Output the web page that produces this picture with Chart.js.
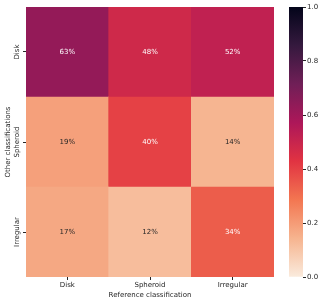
<!DOCTYPE html>
<html>
<head>
<meta charset="utf-8">
<script src="https://cdn.jsdelivr.net/npm/chart.js@4"></script>
<style>
  body { margin: 0; background: #fff; }
  #wrap { position: relative; width: 324px; height: 303px; }
  #main { position: absolute; left: 0; top: 0; }
  #cbar { position: absolute; left: 280px; top: 0; }
</style>
</head>
<body>
<div id="wrap">
  <canvas id="main" width="324" height="303"></canvas>
  <canvas id="cbar" width="44" height="303"></canvas>
</div>
<script>
// reference classification (columns)
const categories = ["Disk", "Spheroid", "Irregular"];
// other classifications (rows, top to bottom), percent of column
const rowLabels = ["Disk", "Spheroid", "Irregular"];
const diskRow = [63, 48, 52];
const spheroidRow = [19, 40, 14];
const irregularRow = [17, 12, 34];
const colorbarTicks = [0, 0.2, 0.4, 0.6, 0.8, 1.0];

// rocket_r colormap stops
const rocket = [
  [0, "#faebdd"], [0.143, "#f6b48f"], [0.286, "#f37651"], [0.429, "#e13342"],
  [0.571, "#ad1759"], [0.714, "#701f57"], [0.857, "#35193e"], [1, "#03051a"]
];

function hexRgb(h) {
  return [parseInt(h.slice(1, 3), 16), parseInt(h.slice(3, 5), 16), parseInt(h.slice(5, 7), 16)];
}
function cmap(v) {
  for (let i = 1; i < rocket.length; i++) {
    if (v <= rocket[i][0]) {
      const a = rocket[i - 1], b = rocket[i];
      const t = (v - a[0]) / (b[0] - a[0]);
      const ca = hexRgb(a[1]), cb = hexRgb(b[1]);
      return ca.map((c, k) => Math.round(c + (cb[k] - c) * t));
    }
  }
  return hexRgb(rocket[rocket.length - 1][1]);
}
function rgbStr(c) { return "rgb(" + c.join(",") + ")"; }
function lum(c) {
  const f = c.map(x => {
    x = x / 255;
    return x <= 0.03928 ? x / 12.92 : Math.pow((x + 0.055) / 1.055, 2.4);
  });
  return 0.2126 * f[0] + 0.7152 * f[1] + 0.0722 * f[2];
}

const FONT = "DejaVu Sans";
const TXT = "#262626";
const rows = [diskRow, spheroidRow, irregularRow];
// stacked from bottom: Irregular, Spheroid, Disk
const stackOrder = [2, 1, 0];

const datasets = stackOrder.map(r => ({
  label: rowLabels[r],
  data: categories.map(() => 1),
  pct: rows[r],
  backgroundColor: rows[r].map(v => rgbStr(cmap(v / 100))),
  borderWidth: 0,
  barPercentage: 1,
  categoryPercentage: 1
}));

const cellText = {
  id: "cellText",
  afterDatasetsDraw(chart) {
    const ctx = chart.ctx;
    ctx.save();
    ctx.font = "7px '" + FONT + "'";
    ctx.textAlign = "center";
    ctx.textBaseline = "middle";
    chart.data.datasets.forEach((ds, i) => {
      chart.getDatasetMeta(i).data.forEach((bar, j) => {
        const v = ds.pct[j];
        const c = cmap(v / 100);
        ctx.fillStyle = lum(c) > 0.408 ? TXT : "#ffffff";
        const p = bar.getProps(["x", "y", "base"], true);
        ctx.fillText(v + "%", p.x, (p.y + p.base) / 2);
      });
    });
    ctx.restore();
  }
};

// rotated y labels and y title, placed like matplotlib
const yText = {
  id: "yText",
  afterDraw(chart) {
    const ctx = chart.ctx;
    const y = chart.scales.y;
    ctx.save();
    ctx.font = "7px '" + FONT + "'";
    ctx.fillStyle = TXT;
    ctx.textAlign = "center";
    ctx.textBaseline = "middle";
    y.ticks.forEach(t => {
      ctx.save();
      ctx.translate(17.5, y.getPixelForValue(t.value));
      ctx.rotate(-Math.PI / 2);
      ctx.fillText(rowLabels[2 - Math.floor(t.value)], 0, 0);
      ctx.restore();
    });
    ctx.translate(8.5, (chart.chartArea.top + chart.chartArea.bottom) / 2);
    ctx.rotate(-Math.PI / 2);
    ctx.fillText("Other classifications", 0, 0);
    ctx.restore();
  }
};

new Chart(document.getElementById("main"), {
  type: "bar",
  data: { labels: categories, datasets: datasets },
  options: {
    responsive: false,
    animation: false,
    layout: { padding: { left: 0, top: 7, right: 50, bottom: 0 } },
    plugins: { legend: { display: false }, tooltip: { enabled: false } },
    scales: {
      x: {
        stacked: true,
        grid: { display: true, drawOnChartArea: false, offset: false, tickLength: 3, color: TXT },
        border: { display: false },
        ticks: { color: TXT, font: { family: FONT, size: 7 }, padding: 1 },
        title: { display: true, text: "Reference classification", color: TXT, font: { family: FONT, size: 7 }, padding: { top: 0, bottom: 4 } },
        afterFit(s) { s.height = 26; }
      },
      y: {
        stacked: true,
        min: 0,
        max: 3,
        afterBuildTicks(s) { s.ticks = [0.5, 1.5, 2.5].map(v => ({ value: v })); },
        grid: { display: true, drawOnChartArea: false, tickLength: 3, color: TXT },
        border: { display: false },
        ticks: { display: false },
        afterFit(s) { s.width = 26; }
      }
    }
  },
  plugins: [cellText, yText]
});

new Chart(document.getElementById("cbar"), {
  type: "bar",
  data: {
    labels: ["c"],
    datasets: [{
      data: [1],
      borderWidth: 0,
      barPercentage: 1,
      categoryPercentage: 1,
      backgroundColor(ctx) {
        const ca = ctx.chart.chartArea;
        if (!ca) return "#ccc";
        const g = ctx.chart.ctx.createLinearGradient(0, ca.bottom, 0, ca.top);
        rocket.forEach(s => g.addColorStop(s[0], s[1]));
        return g;
      }
    }]
  },
  options: {
    responsive: false,
    animation: false,
    layout: { padding: { left: 9, top: 7, right: 0, bottom: 26 } },
    plugins: { legend: { display: false }, tooltip: { enabled: false } },
    scales: {
      x: { display: false },
      y: {
        position: "right",
        min: 0,
        max: 1,
        afterBuildTicks(s) { s.ticks = colorbarTicks.map(v => ({ value: v })); },
        grid: { display: true, drawOnChartArea: false, tickLength: 3, color: TXT },
        border: { display: false },
        ticks: {
          color: TXT,
          font: { family: FONT, size: 7 },
          padding: 1,
          callback: v => v.toFixed(1)
        },
        afterFit(s) { s.width = 21; }
      }
    }
  }
});
</script>
</body>
</html>
